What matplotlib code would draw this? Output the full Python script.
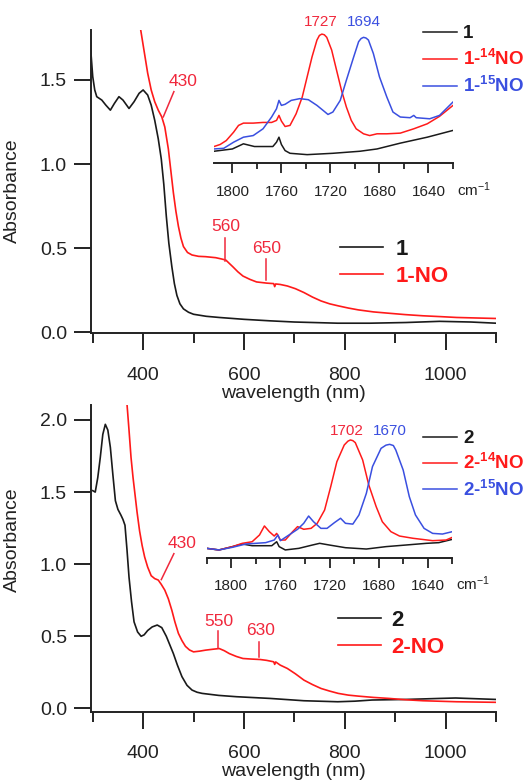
import matplotlib
matplotlib.use("Agg")
import matplotlib.pyplot as plt
from matplotlib.ticker import MultipleLocator, FormatStrFormatter

plt.rcParams['font.family'] = ['Liberation Sans', 'DejaVu Sans']
plt.rcParams['mathtext.fontset'] = 'custom'
plt.rcParams['mathtext.rm'] = 'Liberation Sans'
plt.rcParams['mathtext.bf'] = 'Liberation Sans:bold'
plt.rcParams['mathtext.default'] = 'rm'

BLACK = "#1a1a1a"
RED = "#ff1a1a"
BLUE = "#3a4fe0"
ANN_RED = "#f0283c"
TXT = "#222222"

# --- UV-vis, complex 1 ---
wl_1 = [294, 296, 300, 304, 308, 318, 326, 335, 343, 352, 360, 372, 382, 392, 400,
        409, 416, 423, 430, 436, 441, 446, 451, 457, 462, 467, 473, 480, 490, 500,
        525, 551, 600, 652, 700, 786, 850, 921, 988, 1050, 1100]
abs_1 = [1.80, 1.68, 1.52, 1.44, 1.40, 1.38, 1.35, 1.32, 1.36, 1.40, 1.38, 1.33, 1.37, 1.42, 1.44,
         1.41, 1.35, 1.26, 1.15, 1.03, 0.88, 0.69, 0.53, 0.39, 0.29, 0.22, 0.17, 0.14, 0.12, 0.108,
         0.096, 0.089, 0.078, 0.069, 0.062, 0.055, 0.055, 0.059, 0.066, 0.062, 0.055]

wl_1no = [395, 402, 409, 416, 423, 430, 437, 443, 450, 455, 460, 465, 470, 475, 480,
          488, 497, 510, 524, 544, 556, 564, 571, 578, 588, 598, 612, 625, 645, 659,
          661, 663, 672, 686, 702, 719, 736, 753, 770, 787, 807, 827, 857, 888, 920,
          955, 990, 1022, 1060, 1100]
abs_1no = [1.80, 1.67, 1.54, 1.44, 1.37, 1.32, 1.28, 1.22, 1.09, 0.96, 0.83, 0.72, 0.63, 0.56, 0.51,
           0.475, 0.46, 0.452, 0.45, 0.444, 0.436, 0.43, 0.41, 0.39, 0.36, 0.335, 0.315, 0.30, 0.293, 0.29,
           0.272, 0.288, 0.285, 0.276, 0.26, 0.237, 0.21, 0.187, 0.17, 0.158, 0.145, 0.134, 0.122, 0.114, 0.106,
           0.099, 0.094, 0.089, 0.086, 0.083]

# --- UV-vis, complex 2 ---
wl_2 = [300, 305, 310, 315, 320, 325, 330, 335, 340, 345, 350, 356, 360, 364, 368,
        372, 377, 382, 389, 396, 402, 409, 418, 428, 437, 446, 453, 460, 468, 477,
        487, 497, 507, 517, 550, 585, 652, 719, 786, 820, 854, 921, 988, 1020, 1100]
abs_2 = [1.51, 1.50, 1.60, 1.74, 1.90, 1.97, 1.93, 1.81, 1.62, 1.44, 1.38, 1.34, 1.31, 1.27, 1.10,
         0.91, 0.74, 0.60, 0.53, 0.50, 0.51, 0.54, 0.565, 0.578, 0.56, 0.50, 0.44, 0.38, 0.30, 0.22,
         0.16, 0.127, 0.112, 0.104, 0.09, 0.081, 0.069, 0.053, 0.046, 0.05, 0.058, 0.062, 0.069, 0.072, 0.062]

wl_2no = [368, 372, 376, 380, 383, 388, 393, 398, 403, 409, 416, 423, 430, 436, 443,
          450, 457, 463, 470, 477, 484, 492, 500, 512, 524, 538, 551, 561, 571, 585,
          598, 615, 632, 645, 659, 661, 663, 672, 686, 702, 719, 736, 753, 770, 787,
          807, 827, 857, 888, 920, 955, 1022, 1100]
abs_2no = [2.11, 1.93, 1.74, 1.60, 1.51, 1.36, 1.23, 1.13, 1.05, 0.98, 0.92, 0.90, 0.89, 0.86, 0.82,
           0.76, 0.68, 0.60, 0.52, 0.47, 0.43, 0.405, 0.392, 0.397, 0.404, 0.41, 0.415, 0.40, 0.38, 0.36,
           0.346, 0.342, 0.339, 0.333, 0.323, 0.305, 0.322, 0.30, 0.277, 0.24, 0.196, 0.165, 0.138, 0.12, 0.104,
           0.092, 0.085, 0.076, 0.069, 0.06, 0.053, 0.046, 0.042]

# --- IR insets (arbitrary intensity) ---
wn_1 = [1815, 1800, 1791, 1782, 1767, 1764, 1762, 1760, 1757, 1753, 1739, 1718, 1696, 1682, 1663, 1641, 1620]
ir_1 = [0.089, 0.106, 0.144, 0.124, 0.124, 0.156, 0.193, 0.139, 0.094, 0.074, 0.064, 0.074, 0.089, 0.106,
        0.149, 0.193, 0.243]

wn_1_14 = [1815, 1810, 1805, 1799, 1795, 1791, 1783, 1775, 1768, 1764, 1762, 1760, 1757, 1753, 1748,
           1743, 1739, 1735, 1731, 1729, 1727, 1725, 1723, 1719, 1715, 1711, 1707, 1703, 1699, 1693,
           1688, 1682, 1674, 1663, 1652, 1641, 1631, 1620]
ir_1_14 = [0.124, 0.139, 0.168, 0.230, 0.280, 0.297, 0.297, 0.302, 0.302, 0.317, 0.354, 0.312, 0.272, 0.280,
           0.366, 0.490, 0.639, 0.787, 0.911, 0.945, 0.955, 0.950, 0.931, 0.837, 0.688, 0.540, 0.416, 0.317,
           0.255, 0.218, 0.205, 0.218, 0.218, 0.223, 0.255, 0.292, 0.347, 0.428]

wn_1_15 = [1815, 1807, 1799, 1791, 1783, 1775, 1768, 1764, 1762, 1760, 1757, 1752, 1745, 1738, 1731,
           1726, 1722, 1718, 1712, 1707, 1701, 1697, 1695, 1693, 1691, 1689, 1685, 1680, 1674, 1669,
           1663, 1655, 1652, 1650, 1639, 1631, 1620]
ir_1_15 = [0.106, 0.111, 0.156, 0.193, 0.205, 0.255, 0.342, 0.403, 0.465, 0.428, 0.436, 0.465, 0.478, 0.470,
           0.428, 0.391, 0.361, 0.379, 0.465, 0.614, 0.787, 0.899, 0.922, 0.931, 0.926, 0.911, 0.812, 0.639,
           0.490, 0.379, 0.342, 0.337, 0.354, 0.337, 0.329, 0.354, 0.453]

wn_2 = [1820, 1810, 1799, 1791, 1783, 1767, 1763, 1761, 1756, 1745, 1734, 1728, 1720, 1707, 1690, 1674,
        1658, 1641, 1631, 1620]
ir_2 = [0.069, 0.057, 0.082, 0.102, 0.089, 0.089, 0.119, 0.082, 0.057, 0.069, 0.094, 0.107, 0.094, 0.074,
        0.064, 0.082, 0.094, 0.107, 0.112, 0.137]

wn_2_14 = [1820, 1810, 1799, 1791, 1783, 1777, 1773, 1769, 1765, 1763, 1760, 1756, 1750, 1746, 1741,
           1735, 1730, 1724, 1719, 1714, 1708, 1705, 1703, 1701, 1699, 1693, 1688, 1682, 1677, 1670,
           1663, 1652, 1636, 1625, 1620]
ir_2_14 = [0.069, 0.057, 0.082, 0.107, 0.119, 0.170, 0.238, 0.195, 0.162, 0.182, 0.132, 0.132, 0.195, 0.233,
           0.213, 0.220, 0.258, 0.358, 0.535, 0.723, 0.849, 0.878, 0.887, 0.882, 0.867, 0.736, 0.547, 0.384,
           0.270, 0.195, 0.162, 0.145, 0.127, 0.132, 0.152]

wn_2_15 = [1820, 1810, 1799, 1788, 1772, 1765, 1762, 1760, 1753, 1746, 1741, 1737, 1733, 1727, 1722,
           1716, 1711, 1707, 1701, 1696, 1690, 1685, 1678, 1674, 1671, 1668, 1666, 1660, 1655, 1650,
           1643, 1636, 1628, 1620]
ir_2_15 = [0.069, 0.057, 0.077, 0.102, 0.112, 0.132, 0.170, 0.127, 0.170, 0.213, 0.258, 0.313, 0.270, 0.220,
           0.220, 0.263, 0.296, 0.258, 0.252, 0.321, 0.484, 0.686, 0.824, 0.848, 0.854, 0.845, 0.811, 0.660,
           0.459, 0.321, 0.220, 0.182, 0.177, 0.195]

# annotations: (label, text x, text y, line x0, y0, x1, y1)
ann_top = [("430", 480, 1.49, 461, 1.43, 440, 1.28),
           ("560", 564, 0.631, 562, 0.558, 562, 0.426),
           ("650", 645, 0.497, 643, 0.434, 643, 0.312)]
ann_bot = [("430", 478, 1.142, 461, 1.073, 436, 0.893),
           ("550", 550, 0.60, 548, 0.537, 548, 0.422),
           ("630", 632, 0.537, 630, 0.461, 630, 0.358)]
peaks_top = [("1727", 1728, 1.047, ANN_RED), ("1694", 1693, 1.047, BLUE)]
peaks_bot = [("1702", 1706, 0.957, ANN_RED), ("1670", 1671, 0.957, BLUE)]

W, H = 530, 780
fig = plt.figure(figsize=(W / 100, H / 100), dpi=100)


def px_axes(x0, y0, x1, y1):
    # pixel box (top-left origin) -> figure fraction
    return fig.add_axes([x0 / W, 1 - y1 / H, (x1 - x0) / W, (y1 - y0) / H])


def style_main(ax, ylim):
    ax.set_xlim(296, 1100)
    ax.set_ylim(*ylim)
    for s in ["top", "right"]:
        ax.spines[s].set_visible(False)
    for s in ["left", "bottom"]:
        ax.spines[s].set_linewidth(1.4)
        ax.spines[s].set_color(TXT)
    ax.xaxis.set_major_locator(MultipleLocator(200))
    ax.xaxis.set_minor_locator(MultipleLocator(100))
    ax.yaxis.set_major_locator(MultipleLocator(0.5))
    ax.yaxis.set_major_formatter(FormatStrFormatter('%.1f'))
    ax.tick_params(axis='both', which='major', direction='out', length=12, width=1.4,
                   labelsize=14, colors=TXT)
    ax.tick_params(axis='x', which='major', pad=12)
    ax.tick_params(axis='y', which='major', pad=5)
    ax.tick_params(axis='x', which='minor', direction='out', length=7, width=1.4, colors=TXT)
    ax.set_xlabel("wavelength (nm)", fontsize=14, color=TXT)
    ax.set_ylabel("Absorbance", fontsize=14, color=TXT)


def style_inset(ax, xlim, ylim):
    ax.set_xlim(*xlim)
    ax.set_ylim(*ylim)
    ax.patch.set_alpha(0)
    for s in ["top", "right", "left"]:
        ax.spines[s].set_visible(False)
    ax.spines["bottom"].set_linewidth(1.4)
    ax.spines["bottom"].set_color(TXT)
    ax.set_yticks([])
    ax.xaxis.set_major_locator(MultipleLocator(40))
    ax.xaxis.set_minor_locator(MultipleLocator(20))
    ax.tick_params(axis='x', which='major', direction='out', length=7.5, width=1.3,
                   labelsize=11, colors=TXT, pad=8)
    ax.tick_params(axis='x', which='minor', direction='out', length=4.5, width=1.3, colors=TXT)
    ax.annotate("cm$^{-1}$", xy=(1, 0), xycoords='axes fraction', xytext=(3, -23.5),
                textcoords='offset points', ha='left', va='baseline', fontsize=11, color=TXT)


def annotate(ax, items):
    for label, tx, ty, x0, y0, x1, y1 in items:
        ax.text(tx, ty, label, color=ANN_RED, fontsize=12.5, ha='center', va='center')
        ax.plot([x0, x1], [y0, y1], color=ANN_RED, lw=1.1)


def legend(ax, handles, labels, x, y, size, hl, htp, ls):
    ax.legend(handles, labels, loc='upper left', bbox_to_anchor=(x / W, 1 - y / H),
              bbox_transform=fig.transFigure, frameon=False, borderpad=0, borderaxespad=0,
              handlelength=hl, handletextpad=htp, labelspacing=ls, labelcolor='linecolor',
              prop={'weight': 'bold', 'size': size})


# ---- top panel ----
ax1 = px_axes(90.7, 30, 496, 333.3)
l1, = ax1.plot(wl_1, abs_1, color=BLACK, lw=1.2)
l1no, = ax1.plot(wl_1no, abs_1no, color=RED, lw=1.2)
style_main(ax1, (-0.005, 1.796))
ax1.yaxis.set_label_coords(-0.173, 0.47)
ax1.xaxis.set_label_coords(0.5, -0.17)
annotate(ax1, ann_top)
legend(ax1, [l1, l1no], ["1", "1-NO"], 340, 239, 16, 1.95, 0.55, 0.27)

ins1 = px_axes(214, 28, 453, 163.3)
i1, = ins1.plot(wn_1, ir_1, color=BLACK, lw=1.1)
i1a, = ins1.plot(wn_1_14, ir_1_14, color=RED, lw=1.1)
i1b, = ins1.plot(wn_1_15, ir_1_15, color=BLUE, lw=1.1)
style_inset(ins1, (1815, 1620), (0, 1))
for label, x, y, c in peaks_top:
    ins1.text(x, y, label, color=c, fontsize=11, ha='center', va='center', clip_on=False)
legend(ins1, [i1, i1a, i1b], ["1", r"1-$^{\mathbf{14}}$NO", r"1-$^{\mathbf{15}}$NO"],
       423, 25, 13.5, 1.8, 0.35, 0.37)

# ---- bottom panel ----
ax2 = px_axes(90.7, 405, 496, 711.7)
l2, = ax2.plot(wl_2, abs_2, color=BLACK, lw=1.2)
l2no, = ax2.plot(wl_2no, abs_2no, color=RED, lw=1.2)
style_main(ax2, (-0.023, 2.104))
ax2.yaxis.set_label_coords(-0.173, 0.56)
ax2.xaxis.set_label_coords(0.5, -0.168)
annotate(ax2, ann_bot)
legend(ax2, [l2, l2no], ["2", "2-NO"], 338, 610, 16, 1.95, 0.45, 0.27)

ins2 = px_axes(206.7, 425, 452.3, 557.5)
i2, = ins2.plot(wn_2, ir_2, color=BLACK, lw=1.1)
i2a, = ins2.plot(wn_2_14, ir_2_14, color=RED, lw=1.1)
i2b, = ins2.plot(wn_2_15, ir_2_15, color=BLUE, lw=1.1)
style_inset(ins2, (1820, 1620), (0, 1))
for label, x, y, c in peaks_bot:
    ins2.text(x, y, label, color=c, fontsize=11, ha='center', va='center', clip_on=False)
legend(ins2, [i2, i2a, i2b], ["2", r"2-$^{\mathbf{14}}$NO", r"2-$^{\mathbf{15}}$NO"],
       423, 430, 13.5, 1.8, 0.35, 0.33)

fig.savefig("out.png", dpi=100)
